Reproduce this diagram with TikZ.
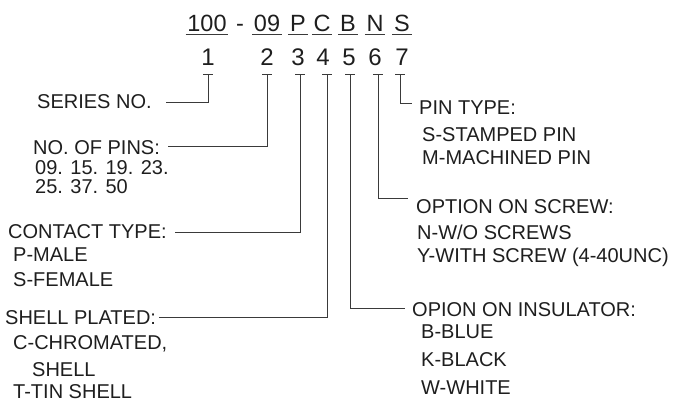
\documentclass[tikz,border=0pt]{standalone}
\usepackage{fontspec}
\setmainfont{Liberation Sans}
\usepackage{tikz}
\usetikzlibrary{positioning}
\definecolor{pnInk}{HTML}{1E1E1E}
\definecolor{pnRule}{HTML}{3A3A3A}

\begin{document}
\begin{tikzpicture}[x=1pt,y=-1pt,
  code/.style={font=\fontsize{23.5}{26}\selectfont,text=pnInk,inner sep=0pt,anchor=base},
  dg/.style={font=\fontsize{24}{26}\selectfont,text=pnInk,inner sep=0pt,anchor=base},
  hd/.style={font=\fontsize{20}{20}\selectfont,text=pnInk,inner sep=0pt,anchor=west},
  vl/.style={font=\fontsize{20}{20}\selectfont,text=pnInk,inner sep=0pt,
             anchor=north west,align=left},
  ul/.style={pnRule,line width=0.9pt},
  lead/.style={pnRule,line width=0.8pt}]
\useasboundingbox (0,0) rectangle (676,408);
% part number and its fields
\foreach \t/\x/\nm in {100/207/p1,-/240/dash,09/267/p2,P/298/p3,C/322/p4,B/348/p5,N/375/p6,S/402/p7}
  \node[code] (\nm) at (\x,31) {\t};
\foreach \i in {1,...,7}
  \draw[ul] ([xshift=-1.5pt,yshift=-3.5pt]p\i.base west) -- ([xshift=1.5pt,yshift=-3.5pt]p\i.base east);
\foreach \n/\dx/\lx in {1/208/208,2/267/267,3/298/300,4/323/327,5/349/350,6/375/378,7/402/400} {
  \node[dg] (d\n) at (\dx,65) {\n};
  \coordinate (t\n) at (\lx,74);
  \draw[lead] ([xshift=-5pt]t\n) -- ([xshift=5pt]t\n);
}
% left side
\node[hd] (series) at (37,102) {SERIES NO.};
\node[hd] (pins) at (33,148) {NO. OF PINS:};
\node[vl] (pinsv) at (35,160.8) {09. 15. 19. 23.\\[-1pt]25. 37. 50};
\node[hd] (contact) at (8,232) {CONTACT TYPE:};
\node[vl] (contactv) at (13,247.8) {P-MALE\\[5pt]S-FEMALE};
\node[hd] (shell) at (5,318) {SHELL PLATED:};
\node[vl] (shellv) at (13,335.8) {C-CHROMATED,\\[7pt]\hspace*{19pt}SHELL\\[2pt]T-TIN SHELL};
% right side
\node[hd] (pintype) at (419,108) {PIN TYPE:};
\node[vl] (pintypev) at (422,127.8) {S-STAMPED PIN\\[3pt]M-MACHINED PIN};
\node[hd] (screw) at (416,207) {OPTION ON SCREW:};
\node[vl] (screwv) at (417,224.8) {N-W/O SCREWS\\[3pt]Y-WITH SCREW (4-40UNC)};
\node[hd] (insul) at (412,310) {OPION ON INSULATOR:};
\node[vl] (insulv) at (421,324.8) {B-BLUE\\[8pt]K-BLACK\\[8pt]W-WHITE};
% leaders
\draw[lead] (t1) |- ([xshift=14pt]series.east);
\draw[lead] (t2) |- ([xshift=8pt,yshift=2pt]pins.east);
\draw[lead] (t3) |- ([xshift=8pt]contact.east);
\draw[lead] (t4) |- ([xshift=3pt,yshift=1pt]shell.east);
\draw[lead] (t5) |- ([xshift=-7pt,yshift=2pt]insul.west);
\draw[lead] (t6) |- ([xshift=-8pt,yshift=9pt]screw.west);
\draw[lead] (t7) |- ([xshift=-7pt,yshift=5pt]pintype.west);
\end{tikzpicture}
\end{document}
